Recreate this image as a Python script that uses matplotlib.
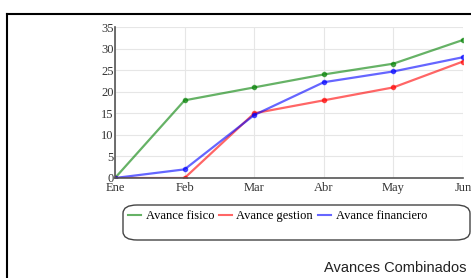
import matplotlib
matplotlib.use('Agg')
import matplotlib.pyplot as plt
from matplotlib.lines import Line2D
from matplotlib.patches import FancyBboxPatch

# Data
months = ["Ene", "Feb", "Mar", "Abr", "May", "Jun"]
avance_fisico = [0, 18, 21, 24, 26.5, 32]
avance_gestion = [0, 0, 15, 18, 21, 27]
avance_financiero = [0, 2, 14.6, 22.2, 24.7, 28]
y_ticks = [0, 5, 10, 15, 20, 25, 30, 35]

W, H = 471, 278
fig = plt.figure(figsize=(W / 100, H / 100), dpi=100)
fig.patch.set_facecolor("white")

# outer panel border (top + left)
fig.add_artist(Line2D([7 / W, 1], [1 - 14 / H, 1 - 14 / H], color="black", lw=1.5))
fig.add_artist(Line2D([7 / W, 7 / W], [0, 1 - 14 / H], color="black", lw=1.5))

ax = fig.add_axes([115 / W, 1 - 178 / H, (463 - 115) / W, (178 - 27) / H])
x = list(range(len(months)))

series = [
    ("Avance fisico", avance_fisico, "green"),
    ("Avance gestion", avance_gestion, "red"),
    ("Avance financiero", avance_financiero, "blue"),
]
for label, vals, col in series:
    ax.plot(x, vals, color=col, alpha=0.6, lw=1.6, marker="o", ms=3,
            label=label, solid_joinstyle="round")

ax.set_xlim(0, len(months) - 1)
ax.set_ylim(0, 35)
ax.set_xticks(x)
ax.set_xticklabels(months)
ax.set_yticks(y_ticks)
ax.grid(True, color="#e6e6e6", lw=0.8)
ax.set_axisbelow(True)
for side in ("top", "right"):
    ax.spines[side].set_visible(False)
for side in ("left", "bottom"):
    ax.spines[side].set_color("#555555")
    ax.spines[side].set_linewidth(1.2)
ax.tick_params(length=0, labelsize=9, labelcolor="#333333")
ax.tick_params(axis="y", pad=1)
ax.tick_params(axis="x", pad=3)
for t in ax.get_xticklabels() + ax.get_yticklabels():
    t.set_fontfamily("Liberation Serif")

# legend box
box = FancyBboxPatch((123 / W, 1 - 240 / H), (470 - 123) / W, 35 / H,
                     boxstyle="round,pad=0,rounding_size=0.03",
                     transform=fig.transFigure, fc="white", ec="#444444", lw=1)
fig.add_artist(box)
handles = [Line2D([], [], color=c, alpha=0.6, lw=1.5) for _, _, c in series]
fig.legend(handles, [s[0] for s in series], loc="center left",
           bbox_to_anchor=(128 / W, 1 - 216 / H), ncol=3, frameon=False,
           handlelength=1.0, handletextpad=0.4, columnspacing=0.4,
           borderaxespad=0, borderpad=0,
           prop={"family": "Liberation Serif", "size": 9})

fig.text(466 / W, 1 - 268 / H, "Avances Combinados", ha="right", va="center",
         fontsize=10.5, family="Liberation Sans", color="#222222")

fig.savefig("out.png", dpi=100)
